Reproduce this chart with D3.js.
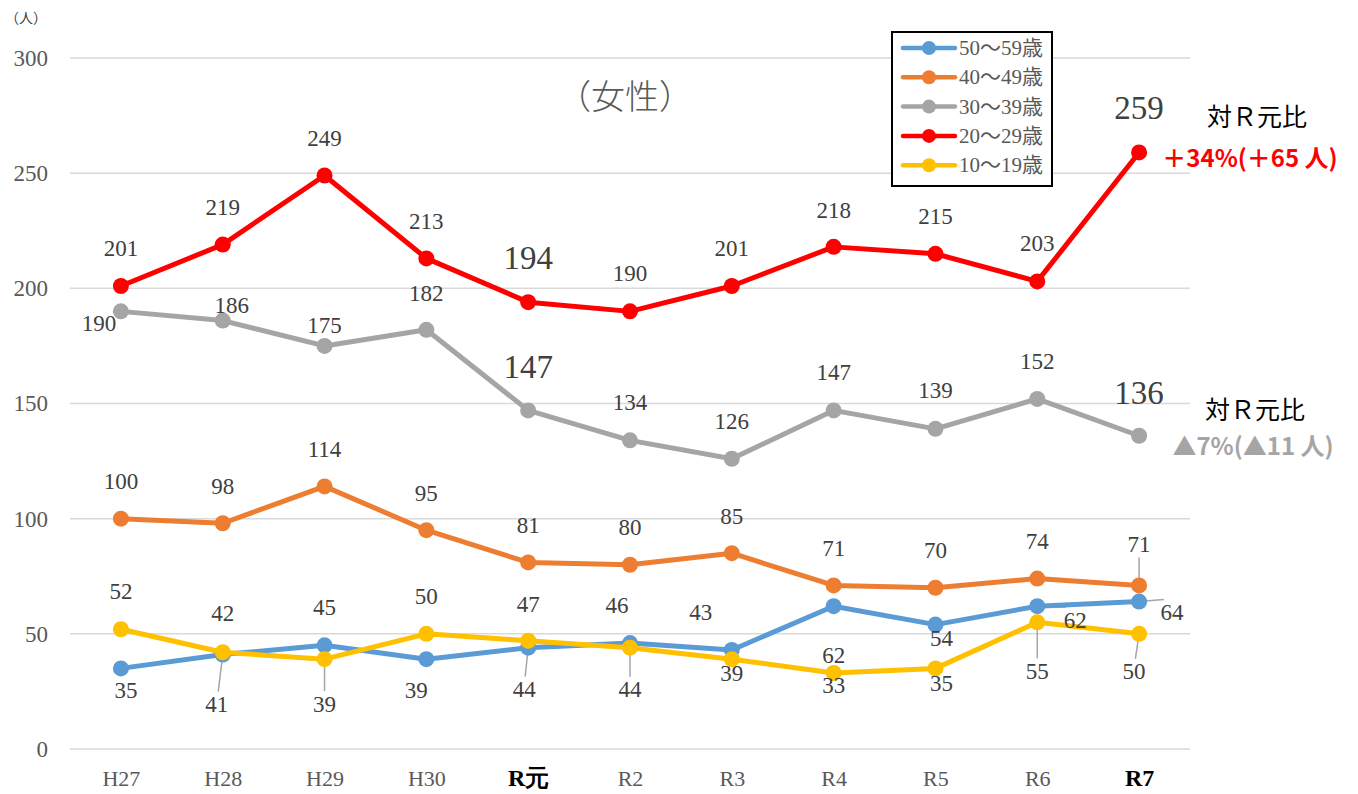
<!DOCTYPE html>
<html>
<head>
<meta charset="utf-8">
<script src="https://cdn.jsdelivr.net/npm/d3@7"></script>
<style>
  body { margin: 0; background: #fff; }
  svg { display: block; }
</style>
</head>
<body>
<script>
const years = ['H27', 'H28', 'H29', 'H30', 'R元', 'R2', 'R3', 'R4', 'R5', 'R6', 'R7']
const seriesNames = ['50〜59歳', '40〜49歳', '30〜39歳', '20〜29歳', '10〜19歳']
const age50 = [35, 41, 45, 39, 44, 46, 43, 62, 54, 62, 64]
const age40 = [100, 98, 114, 95, 81, 80, 85, 71, 70, 74, 71]
const age30 = [190, 186, 175, 182, 147, 134, 126, 147, 139, 152, 136]
const age20 = [201, 219, 249, 213, 194, 190, 201, 218, 215, 203, 259]
const age10 = [52, 42, 39, 50, 47, 44, 39, 33, 35, 55, 50]
const yTicks = [0, 50, 100, 150, 200, 250, 300]

const colors = ['#5B9BD5', '#ED7D31', '#A5A5A5', '#FF0000', '#FFC000']
const allSeries = [age50, age40, age30, age20, age10]

// label placement [dx, dy, leader?] relative to the point
const labelOffsets = [
  [[5, 22], [-6, 50, 1], [0, -38], [-10, 31], [-4, 42, 1], [-13, -38], [-31, -37], [0, 49], [6, 14], [38, 14, 1], [33, 11, 1]],
  [[0, -37], [0, -37], [0, -37], [0, -37], [0, -37], [0, -37], [0, -37], [0, -37], [0, -37], [0, -37], [0, -41, 1]],
  [[-22, 12], [9, -15], [0, -20], [0, -36], [0, -43], [0, -38], [0, -37], [0, -38], [0, -38], [0, -37], [0, -43]],
  [[0, -38], [0, -37], [0, -37], [0, -37], [0, -44], [0, -38], [0, -38], [0, -36], [0, -37], [0, -38], [0, -44]],
  [[0, -38], [0, -39], [0, 45, 1], [0, -37], [0, -36], [0, 42, 1], [0, 14], [0, 13], [6, 15], [0, 49, 1], [-5, 38, 1]]
]
const bigLabels = ['R元', 'R7']

const width = 1358, height = 794
const svg = d3.select('body').append('svg').attr('width', width).attr('height', height)

const x = d3.scalePoint().domain(years).range([70, 1190]).padding(0.5)
const y = d3.scaleLinear().domain([0, 300]).range([749, 58])

const numFont = '"Liberation Serif", "DejaVu Serif", serif'

// grid
svg.selectAll('line.grid')
  .data(yTicks)
  .enter().append('line')
    .attr('class', 'grid')
    .attr('x1', 70).attr('x2', 1190)
    .attr('y1', d => y(d)).attr('y2', d => y(d))
    .attr('stroke', '#d9d9d9').attr('stroke-width', 1.5)

// y axis
const yAxis = d3.axisLeft(y).tickValues(yTicks).tickSize(0).tickPadding(0)
const gy = svg.append('g').attr('transform', 'translate(48,0)').call(yAxis)
gy.select('.domain').remove()
gy.selectAll('text').attr('font-family', numFont).attr('font-size', 23).attr('fill', '#595959')

// x axis
const xAxis = d3.axisBottom(x).tickSize(0).tickPadding(0)
const gx = svg.append('g').attr('transform', 'translate(0,778)').call(xAxis)
gx.select('.domain').remove()
gx.selectAll('text')
  .attr('dy', '0.35em')
  .attr('font-family', numFont)
  .attr('font-size', d => bigLabels.includes(d) ? 24 : 22)
  .attr('font-weight', d => bigLabels.includes(d) ? 'bold' : 'normal')
  .attr('fill', d => bigLabels.includes(d) ? '#000' : '#595959')

svg.append('text')
  .attr('x', 26).attr('y', 19)
  .attr('text-anchor', 'middle').attr('dominant-baseline', 'middle')
  .attr('font-family', '"Noto Sans CJK JP", sans-serif').attr('font-size', 14).attr('fill', '#404040')
  .text('（人）')

svg.append('text')
  .attr('x', 625).attr('y', 100)
  .attr('text-anchor', 'middle').attr('dominant-baseline', 'middle')
  .attr('font-family', '"Noto Sans CJK JP", sans-serif').attr('font-weight', 300).attr('font-size', 34).attr('fill', '#595959')
  .text('（女性）')

const line = d3.line().x((d, i) => x(years[i])).y(d => y(d))

allSeries.forEach(function(vals, s) {
  const g = svg.append('g')
  // leaders
  g.selectAll('line.leader')
    .data(vals.map((v, i) => ({ v, i, o: labelOffsets[s][i] })).filter(d => d.o[2]))
    .enter().append('line')
      .attr('x1', d => x(years[d.i]))
      .attr('y1', d => y(d.v))
      .attr('x2', d => x(years[d.i]) + d.o[0] * 0.75)
      .attr('y2', d => y(d.v) + d.o[1] - Math.sign(d.o[1]) * 13)
      .attr('stroke', '#a6a6a6').attr('stroke-width', 1.5)
  g.append('path')
    .datum(vals)
    .attr('d', line)
    .attr('fill', 'none')
    .attr('stroke', colors[s])
    .attr('stroke-width', 5)
    .attr('stroke-linejoin', 'round')
  g.selectAll('circle')
    .data(vals)
    .enter().append('circle')
      .attr('cx', (d, i) => x(years[i]))
      .attr('cy', d => y(d))
      .attr('r', 8)
      .attr('fill', colors[s])
})

allSeries.forEach(function(vals, s) {
  const isBig = i => s >= 2 && s <= 3 && bigLabels.includes(years[i])
  svg.append('g').selectAll('text')
    .data(vals)
    .enter().append('text')
      .attr('x', (d, i) => x(years[i]) + labelOffsets[s][i][0])
      .attr('y', (d, i) => y(d) + labelOffsets[s][i][1])
      .attr('text-anchor', 'middle')
      .attr('dominant-baseline', 'central')
      .attr('font-family', numFont)
      .attr('font-size', (d, i) => isBig(i) ? 33 : 23)
      .attr('fill', '#404040')
      .text(d => d)
})

// legend
const legend = svg.append('g')
legend.append('rect')
  .attr('x', 892).attr('y', 32).attr('width', 160).attr('height', 154)
  .attr('fill', '#fff').attr('stroke', '#000').attr('stroke-width', 2)
const items = legend.selectAll('g.item')
  .data(seriesNames)
  .enter().append('g')
    .attr('class', 'item')
    .attr('transform', (d, i) => 'translate(0,' + (48 + i * 29.3) + ')')
items.append('line')
  .attr('x1', 903).attr('x2', 955).attr('y1', 0).attr('y2', 0)
  .attr('stroke', (d, i) => colors[i]).attr('stroke-width', 4.5).attr('stroke-linecap', 'round')
items.append('circle')
  .attr('cx', 929).attr('cy', 0).attr('r', 7)
  .attr('fill', (d, i) => colors[i])
items.append('text')
  .attr('x', 959).attr('y', 0)
  .attr('dominant-baseline', 'central')
  .attr('font-family', '"Liberation Serif", "Noto Sans CJK JP", serif')
  .attr('font-size', 21).attr('fill', '#595959')
  .text(d => d)

// notes
const notes = [
  { x: 1257, y: 115, text: '対Ｒ元比', color: '#000', weight: 'normal' },
  { x: 1250, y: 156, text: '＋34%(＋65 人)', color: '#FF0000', weight: 'bold' },
  { x: 1255, y: 408, text: '対Ｒ元比', color: '#000', weight: 'normal' },
  { x: 1253, y: 444, text: '▲7%(▲11 人)', color: '#A5A5A5', weight: 'bold' }
]
svg.selectAll('text.note')
  .data(notes)
  .enter().append('text')
    .attr('class', 'note')
    .attr('x', d => d.x).attr('y', d => d.y)
    .attr('text-anchor', 'middle').attr('dominant-baseline', 'central')
    .attr('font-family', '"Noto Sans CJK JP", sans-serif')
    .attr('font-size', d => d.weight === 'bold' ? 24 : 25)
    .attr('font-weight', d => d.weight)
    .attr('fill', d => d.color)
    .text(d => d.text)
</script>
</body>
</html>
